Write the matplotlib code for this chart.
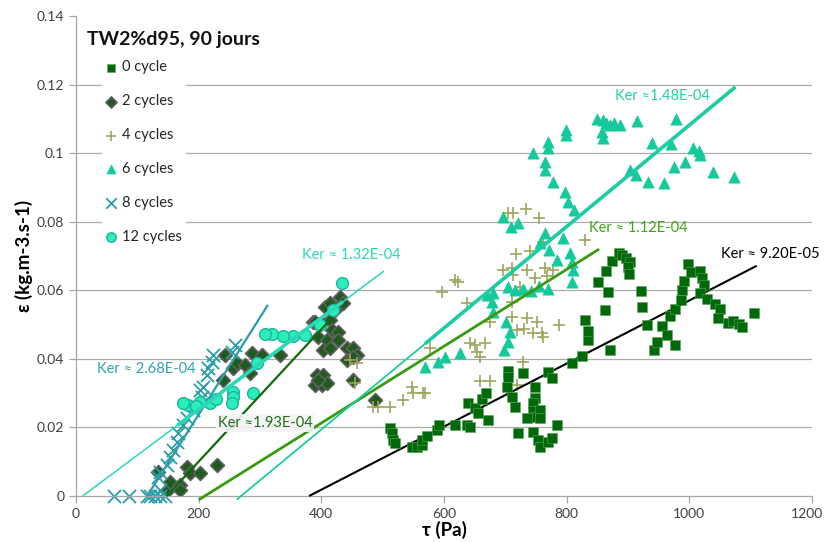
import matplotlib
matplotlib.use("Agg")
import matplotlib.pyplot as plt
import matplotlib.transforms as mtransforms
import numpy as np

plt.rcParams['font.family'] = ['Lato', 'DejaVu Sans']

# ---------------- data ----------------
labels = ["0 cycle", "2 cycles", "4 cycles", "6 cycles", "8 cycles", "12 cycles"]

x0c = [512, 515, 517, 520, 548, 556, 564, 564, 572, 589, 592, 618, 638, 642, 639, 651, 655, 662, 668, 672,
       704, 704, 703, 711, 716, 721, 729, 748, 748, 745, 745, 748, 735, 757, 757, 745, 753, 757, 770, 776,
       784, 770, 776, 809, 825, 835, 835, 830, 871, 863, 867, 851, 864, 874, 885, 890, 897, 903, 900, 902,
       921, 923, 931, 942, 947, 955, 964, 969, 977, 977, 986, 988, 991, 998, 1003, 1017, 1021, 1024, 1017, 1029,
       1042, 1050, 1047, 1063, 1071, 1081, 1086, 1105]
y0c = [0.0198, 0.0184, 0.0163, 0.0155, 0.0143, 0.0143, 0.0149, 0.0163, 0.0175, 0.0193, 0.0207, 0.0207, 0.0207, 0.0201,
       0.0271, 0.0257, 0.0242, 0.0283, 0.0300, 0.0222, 0.0365, 0.0347, 0.0318, 0.0289, 0.0260, 0.0184, 0.0359, 0.0318,
       0.0286, 0.0271, 0.0248, 0.0230, 0.0228, 0.0251, 0.0228, 0.0187, 0.0163, 0.0143, 0.0158, 0.0169, 0.0207, 0.0362,
       0.0344, 0.0388, 0.0408, 0.0455, 0.0481, 0.0513, 0.0426, 0.0543, 0.0595, 0.0624, 0.0656, 0.0685, 0.0709, 0.0703,
       0.0694, 0.0683, 0.0668, 0.0648, 0.0598, 0.0551, 0.0499, 0.0426, 0.0449, 0.0496, 0.0470, 0.0525, 0.0545, 0.0440,
       0.0572, 0.0601, 0.0627, 0.0677, 0.0653, 0.0656, 0.0636, 0.0615, 0.0592, 0.0575, 0.0560, 0.0545, 0.0519, 0.0505,
       0.0510, 0.0502, 0.0493, 0.0534]

x2c = [134, 150, 153, 170, 170, 181, 186, 202, 230, 240, 243, 256, 262, 276, 284, 287, 303, 333,
       386, 390, 401, 414, 417, 395, 409, 427, 427, 403, 414, 442, 452, 458, 442, 452, 393, 403, 390,
       401, 409, 395, 452, 488, 430, 435, 406, 414, 422]
y2c = [0.0070, 0.0017, 0.0041, 0.0032, 0.0017, 0.0085, 0.0067, 0.0067, 0.0090, 0.0338, 0.0411, 0.0373, 0.0388,
       0.0382, 0.0359, 0.0417, 0.0411, 0.0411, 0.0507, 0.0508, 0.0505, 0.0513, 0.0484, 0.0464, 0.0455, 0.0478,
       0.0455, 0.0426, 0.0432, 0.0432, 0.0432, 0.0411, 0.0397, 0.0405, 0.0353, 0.0353, 0.0324, 0.0324, 0.0330,
       0.0338, 0.0338, 0.0280, 0.0580, 0.0563, 0.0551, 0.0563, 0.0542]

x4c = [713, 734, 755, 704, 830, 761, 740, 717, 696, 711, 713, 735, 748, 724, 765, 778, 768, 618, 623, 597,
       638, 711, 711, 675, 735, 752, 788, 719, 730, 745, 760, 761, 642, 651, 667, 654, 659, 577, 729, 659,
       675, 719, 548, 550, 569, 533, 512, 492, 484, 447, 458, 455, 566]
y4c = [0.0826, 0.0837, 0.0811, 0.0826, 0.0747, 0.0741, 0.0715, 0.0706, 0.0659, 0.0665, 0.0645, 0.0659, 0.0636,
       0.0610, 0.0665, 0.0659, 0.0642, 0.0630, 0.0624, 0.0595, 0.0563, 0.0566, 0.0522, 0.0508, 0.0519, 0.0508,
       0.0499, 0.0484, 0.0487, 0.0475, 0.0475, 0.0464, 0.0446, 0.0440, 0.0446, 0.0420, 0.0405, 0.0432, 0.0391,
       0.0335, 0.0335, 0.0324, 0.0318, 0.0300, 0.0300, 0.0280, 0.0260, 0.0260, 0.0260, 0.0397, 0.0388, 0.0330,
       0.0300]

x6c = [850, 860, 864, 858, 860, 871, 877, 887, 915, 978, 939, 970, 1006, 1016, 1017, 903, 913, 933, 959, 975,
       993, 1039, 1073, 799, 799, 797, 802, 812, 794, 806, 809, 810, 770, 770, 745, 765, 765, 778, 696, 709,
       721, 765, 757, 771, 784, 809, 670, 680, 678, 680, 704, 715, 728, 742, 755, 770, 701, 708, 704, 698,
       626, 602, 590, 569]
y6c = [0.1100, 0.1097, 0.1088, 0.1062, 0.1044, 0.1082, 0.1088, 0.1082, 0.1094, 0.1100, 0.1030, 0.1027, 0.1015,
       0.1006, 0.0995, 0.0951, 0.0936, 0.0916, 0.0913, 0.0960, 0.0974, 0.0945, 0.0931, 0.1068, 0.1053, 0.0887,
       0.0858, 0.0834, 0.0753, 0.0709, 0.0683, 0.0659, 0.1033, 0.1015, 0.1000, 0.0974, 0.0951, 0.0916, 0.0814,
       0.0785, 0.0796, 0.0767, 0.0738, 0.0718, 0.0688, 0.0624, 0.0586, 0.0592, 0.0566, 0.0537, 0.0610, 0.0600,
       0.0605, 0.0598, 0.0612, 0.0603, 0.0508, 0.0478, 0.0449, 0.0426, 0.0417, 0.0405, 0.0391, 0.0376]

x8c = [62, 86, 116, 129, 137, 145, 120, 137, 134, 137, 148, 153, 158, 165, 166, 174, 181, 191, 205, 202,
       207, 214, 215, 222, 223, 254, 259]
y8c = [0.0, 0.0, 0.0, 0.0, 0.0, 0.0, 0.0, 0.0017, 0.0055, 0.0070, 0.0090, 0.0114, 0.0134, 0.0157, 0.0184,
       0.0207, 0.0227, 0.0251, 0.0289, 0.0309, 0.0318, 0.0353, 0.0373, 0.0391, 0.0411, 0.0420, 0.0440]

x12c = [434, 419, 398, 373, 354, 338, 320, 308, 295, 289, 256, 256, 254, 218, 202, 189, 183, 174, 196, 229]
y12c = [0.0621, 0.0543, 0.0499, 0.0470, 0.0467, 0.0467, 0.0473, 0.0473, 0.0388, 0.0300, 0.0303, 0.0289, 0.0271,
        0.0271, 0.0274, 0.0260, 0.0265, 0.0271, 0.0262, 0.0283]

# trend lines: slope, x-intercept, x-start, x-end, thick segment
trend_slope = [9.2e-5, 1.93e-4, 1.12e-4, 1.48e-4, 2.83e-4, 1.336e-4]
trend_x0 = [380, 148, 210, 269, 116, 11]
trend_xs = [380, 148, 200, 262, 116, 11]
trend_xe = [1110, 418, 853, 1075, 313, 502]
trend_thick = [None, None, None, (569, 1075), None, (165, 435)]
ker_text = ["Ker ≈ 9.20E-05", "Ker ≈1.93E-04", "Ker ≈ 1.12E-04", "Ker ≈1.48E-04", "Ker ≈ 2.68E-04", "Ker ≈ 1.32E-04"]

xticks = [0, 200, 400, 600, 800, 1000, 1200]
yticks = [0, 0.02, 0.04, 0.06, 0.08, 0.1, 0.12, 0.14]
ytick_labels = ["0", "0.02", "0.04", "0.06", "0.08", "0.1", "0.12", "0.14"]

# ---------------- figure ----------------
W, H = 825, 542
fig = plt.figure(figsize=(W / 100, H / 100), dpi=100)
ax = fig.add_axes([76 / W, 1 - 496 / H, (812 - 76) / W, (496 - 16) / H])
ax.set_xlim(0, 1200)
ax.set_ylim(0, 0.14)

for yv in yticks[1:-1]:
    ax.axhline(yv, color='#ababab', lw=0.9, zorder=0)

for s in ['top', 'right']:
    ax.spines[s].set_visible(False)
for s in ['left', 'bottom']:
    ax.spines[s].set_color('#a6a6a6')
    ax.spines[s].set_linewidth(0.9)

ax.set_xticks(xticks)
ax.set_yticks(yticks)
ax.set_yticklabels(ytick_labels)
ax.tick_params(axis='both', direction='out', length=5, width=0.9, color='#a6a6a6',
               labelsize=10, labelcolor='#404040')
# keep the last x tick label inside the canvas
last_lbl = ax.get_xticklabels()[-1]
last_lbl.set_transform(last_lbl.get_transform() +
                       mtransforms.ScaledTranslation(-5 / 100, 0, fig.dpi_scale_trans))

# trend lines
line_colors = ['#000000', '#0e6b0e', '#3a9a12', '#1ccca2', '#2a9da8', '#2ad8b6']
line_widths = [1.5, 1.6, 2.0, 1.3, 1.6, 1.1]
for i in range(6):
    xs = np.array([trend_xs[i], trend_xe[i]], dtype=float)
    ys = trend_slope[i] * (xs - trend_x0[i])
    ax.plot(xs, ys, color=line_colors[i], lw=line_widths[i], zorder=3, clip_on=False,
            solid_capstyle='butt')
    if trend_thick[i] is not None:
        xt = np.array(trend_thick[i], dtype=float)
        ax.plot(xt, trend_slope[i] * (xt - trend_x0[i]), color=line_colors[i], lw=2.6, zorder=3,
                solid_capstyle='butt')

# scatter series
h = []
h.append(ax.scatter(x0c, y0c, marker='s', s=46, color='#006a0a', edgecolors='#5aa05a', linewidths=0.4,
                    zorder=4, label=labels[0]))
h.append(ax.scatter(x2c, y2c, marker='D', s=50, color='#1f5a1f', edgecolors='#5f5f5f', linewidths=1.2,
                    zorder=2, label=labels[1]))
h.append(ax.scatter(x4c, y4c, marker='+', s=85, color='#9ea55c', linewidths=1.2, zorder=2, label=labels[2]))
h.append(ax.scatter(x6c, y6c, marker='^', s=65, color='#14c99a', edgecolors='#14c99a', linewidths=0.5,
                    zorder=2, label=labels[3]))
h.append(ax.scatter(x8c, y8c, marker='x', s=90, color='#2a9ea8', linewidths=1.3, zorder=2, clip_on=False,
                    label=labels[4]))
h.append(ax.scatter(x12c, y12c, marker='o', s=72, color='#2af0b8', edgecolors='#1fb0a4', linewidths=1.0,
                    zorder=2, label=labels[5]))

# legend
leg = ax.legend(handles=h, loc='upper left', bbox_to_anchor=(102 / W, 1 - 56 / H),
                bbox_transform=fig.transFigure, frameon=True, fontsize=10.5, labelspacing=1.37,
                handlelength=0.6, handletextpad=0.45, borderpad=0.3, borderaxespad=0, markerscale=0.8)
leg.get_frame().set_facecolor('white')
leg.get_frame().set_edgecolor('none')
leg.get_frame().set_alpha(1)
leg.set_zorder(5)
for t in leg.get_texts():
    t.set_color('#262626')

# title inside
fig.text(87 / W, 1 - 40 / H, "TW2%d95, 90 jours", fontsize=14, fontweight='bold', ha='left',
         va='center', color='#111111')

# Ker annotations (positions in data units)
ann_x = [1052, 231, 836, 879, 34, 368]
ann_y = [0.0706, 0.0213, 0.0782, 0.1167, 0.0370, 0.0703]
ann_col = ['#000000', '#1e6e1e', '#3aa812', '#22d0a8', '#2aa5b0', '#2ad6b4']
for i in range(6):
    kw = {}
    if i == 1:
        kw['bbox'] = dict(facecolor='#f3f3f3', edgecolor='none', pad=1.5, alpha=0.9)
    ax.text(ann_x[i], ann_y[i], ker_text[i], color=ann_col[i], fontsize=10.5, ha='left', va='center',
            zorder=6, **kw)

ax.set_xlabel("τ (Pa)", fontsize=13.5, fontweight='bold', labelpad=1)
ax.set_ylabel("ε (kg.m-3.s-1)", fontsize=13.5, fontweight='bold', labelpad=3)

fig.savefig("out.png", dpi=100)
